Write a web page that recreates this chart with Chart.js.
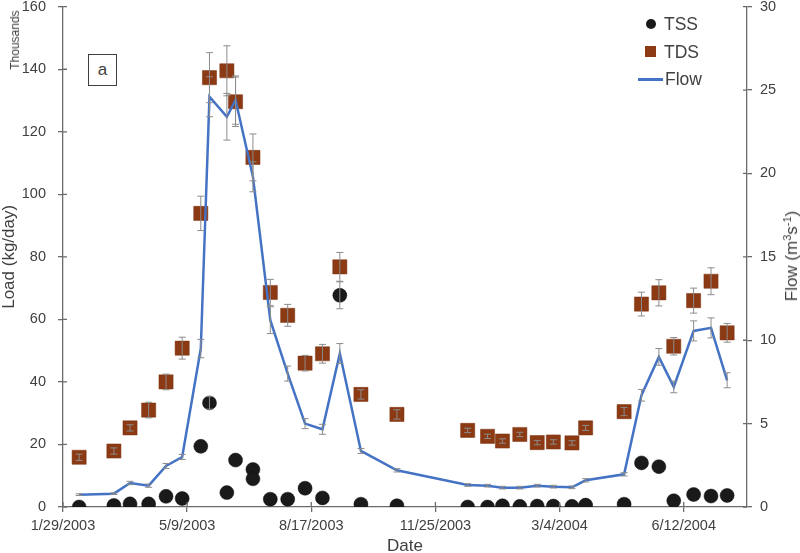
<!DOCTYPE html>
<html>
<head>
<meta charset="utf-8">
<script src="https://cdn.jsdelivr.net/npm/chart.js@4.4.0/dist/chart.umd.min.js"></script>
<style>
  body { margin: 0; background: #fff; font-family: "Liberation Sans", Arial, sans-serif; color: #404040; }
  #wrap { position: relative; width: 800px; height: 553px; }
  #wrap canvas { position: absolute; left: 0; top: 0; }
  .abs { position: absolute; white-space: nowrap; }
  .rot { transform: translate(-50%, -50%) rotate(-90deg); }
  .key { font-size: 17.5px; line-height: 18px; }
  .panel { left: 88px; top: 54px; width: 27px; height: 30px; border: 1px solid #404040; font-size: 17px; line-height: 29px; text-align: center; background: #fff; }
  sup { font-size: 11px; line-height: 0; vertical-align: 6px; }
</style>
</head>
<body>
<div id="wrap">
  <canvas id="loadChart"></canvas>
  <div class="abs rot" style="left:15px; top:40px; font-size:12px;">Thousands</div>
  <div class="abs rot" style="left:792px; top:256px; font-size:17px;">Flow (m<sup>3</sup>s<sup>-1</sup>)</div>
  <div class="abs panel">a</div>
  <div class="abs" style="left:646px; top:19px; width:10px; height:10px; border-radius:50%; background:#1a1a1a;"></div>
  <div class="abs key" style="left:664px; top:15px;">TSS</div>
  <div class="abs" style="left:645px; top:46px; width:11px; height:11px; background:#8b3a14;"></div>
  <div class="abs key" style="left:664px; top:43px;">TDS</div>
  <div class="abs" style="left:638px; top:78px; width:25px; height:2.5px; background:#4472c4;"></div>
  <div class="abs key" style="left:665px; top:70px;">Flow</div>
</div>
<script>
// days counted from 1/29/2003
const startDate = new Date(2003, 0, 29);
const dayTicks = [0, 100, 200, 300, 400, 500];

const tssDays = [13, 41, 54, 69, 83, 96, 111, 118, 132, 139, 153, 153, 167, 181, 195, 209, 223, 240, 269,
  326, 342, 354, 368, 382, 395, 410, 421, 452, 466, 480, 492, 508, 522, 535];
const tssLoad = [0, 0.5, 1, 1, 3.4, 2.7, 19.4, 33.3, 4.6, 15, 12, 9, 2.5, 2.5, 6, 2.9, 67.7, 0.9, 0.4,
  0, 0, 0.4, 0.2, 0.3, 0.3, 0.2, 0.6, 0.9, 14.1, 12.9, 2, 4, 3.5, 3.7];
const tssErr = [0, 0, 0, 0, 0, 0, 0, 2, 0, 0, 0, 0, 0, 0, 0, 0, 4.3, 0, 0,
  0, 0, 0, 0, 0, 0, 0, 0, 0, 0, 0, 0, 0, 0, 0];

const sampleDays = [13, 41, 54, 69, 83, 96, 111, 118, 132, 139, 153, 167, 181, 195, 209, 223, 240, 269,
  326, 342, 354, 368, 382, 395, 410, 421, 452, 466, 480, 492, 508, 522, 535];
const tdsLoad = [15.9, 17.9, 25.3, 31, 40, 50.8, 93.9, 137.3, 139.5, 129.6, 111.8, 68.6, 61.3, 46, 49, 76.8, 36, 29.6,
  24.5, 22.6, 21.1, 23.2, 20.6, 20.8, 20.5, 25.3, 30.5, 64.9, 68.5, 51.4, 66, 72.2, 55.7];
const tdsErr = [1, 1, 1, 2.5, 2.5, 3.5, 5.5, 8, 8, 7.9, 7.5, 4.2, 3.5, 2.5, 3, 4.6, 1.5, 1.5,
  0.7, 0.7, 0.7, 0.7, 0.7, 0.7, 0.7, 0.8, 1.3, 3.8, 4.2, 2.8, 4, 4.3, 3];
const flow = [0.74, 0.8, 1.44, 1.28, 2.46, 3.0, 9.5, 24.6, 23.4, 24.4, 19.8, 11.2, 8.0, 5.0, 4.66, 9.2, 3.36, 2.2,
  1.32, 1.28, 1.16, 1.16, 1.28, 1.22, 1.18, 1.6, 1.96, 6.7, 9.0, 7.2, 10.56, 10.74, 7.6];
const flowErr = [0.05, 0.05, 0.1, 0.1, 0.15, 0.15, 0.55, 1.2, 1.4, 1.45, 0.9, 0.8, 0.45, 0.3, 0.3, 0.6, 0.15, 0.1,
  0.08, 0.08, 0.08, 0.08, 0.08, 0.08, 0.08, 0.1, 0.1, 0.35, 0.5, 0.35, 0.6, 0.6, 0.45];

const axisColor = '#6b6b6b';
const textColor = '#404040';

function dayLabel(d) {
  const dt = new Date(startDate.getTime());
  dt.setDate(dt.getDate() + d);
  return `${dt.getMonth() + 1}/${dt.getDate()}/${dt.getFullYear()}`;
}

function points(days, values) {
  return days.map((d, i) => ({ x: d, y: values[i] }));
}

const errorBars = {
  id: 'errorBars',
  afterDatasetsDraw(chart) {
    const ctx = chart.ctx;
    ctx.save();
    ctx.strokeStyle = '#8c8c8c';
    ctx.lineWidth = 1;
    chart.data.datasets.forEach((ds, di) => {
      if (!ds.errors) return;
      const meta = chart.getDatasetMeta(di);
      const yScale = chart.scales[meta.yAxisID];
      meta.data.forEach((el, i) => {
        const err = ds.errors[i];
        if (!err) return;
        const v = ds.data[i].y;
        const top = yScale.getPixelForValue(v + err);
        const bot = yScale.getPixelForValue(Math.max(0, v - err));
        ctx.beginPath();
        ctx.moveTo(el.x, top); ctx.lineTo(el.x, bot);
        ctx.moveTo(el.x - 3.5, top); ctx.lineTo(el.x + 3.5, top);
        ctx.moveTo(el.x - 3.5, bot); ctx.lineTo(el.x + 3.5, bot);
        ctx.stroke();
      });
    });
    ctx.restore();
  }
};

const innerTicks = {
  id: 'innerTicks',
  afterDraw(chart) {
    const { ctx, chartArea } = chart;
    const { x, y, y1 } = chart.scales;
    ctx.save();
    ctx.strokeStyle = axisColor;
    ctx.lineWidth = 1.3;
    ctx.beginPath();
    x.ticks.forEach((t) => {
      const px = x.getPixelForValue(t.value);
      ctx.moveTo(px, chartArea.bottom); ctx.lineTo(px, chartArea.bottom - 5);
    });
    y.ticks.forEach((t) => {
      const py = y.getPixelForValue(t.value);
      ctx.moveTo(chartArea.left, py); ctx.lineTo(chartArea.left + 4, py);
    });
    y1.ticks.forEach((t) => {
      const py = y1.getPixelForValue(t.value);
      ctx.moveTo(chartArea.right, py); ctx.lineTo(chartArea.right - 4, py);
    });
    ctx.stroke();
    ctx.restore();
  }
};

const tickFont = { family: '"Liberation Sans", Arial, sans-serif', size: 14.5 };
const titleFont = { family: '"Liberation Sans", Arial, sans-serif', size: 17, lineHeight: 1 };

function fitVertical(width) {
  return (scale) => {
    scale.width = width;
    scale.paddingTop = 6.7;
    scale.paddingBottom = 0;
  };
}

new Chart(document.getElementById('loadChart'), {
  type: 'scatter',
  data: {
    datasets: [
      {
        label: 'Flow',
        type: 'line',
        data: points(sampleDays, flow),
        errors: flowErr,
        yAxisID: 'y1',
        borderColor: '#4472c4',
        borderWidth: 2.5,
        pointRadius: 0,
        tension: 0,
        fill: false
      },
      {
        label: 'TDS',
        data: points(sampleDays, tdsLoad),
        errors: tdsErr,
        yAxisID: 'y',
        pointStyle: 'rect',
        pointRadius: 10,
        backgroundColor: '#8b3a14',
        borderColor: '#7a3210',
        borderWidth: 0.5
      },
      {
        label: 'TSS',
        data: points(tssDays, tssLoad),
        errors: tssErr,
        yAxisID: 'y',
        pointStyle: 'circle',
        pointRadius: 7,
        backgroundColor: '#1a1a1a',
        borderColor: '#111',
        borderWidth: 0.5
      }
    ]
  },
  options: {
    responsive: true,
    maintainAspectRatio: false,
    animation: false,
    layout: { padding: 0, autoPadding: false },
    plugins: { legend: { display: false }, tooltip: { enabled: false } },
    scales: {
      x: {
        type: 'linear',
        min: 0,
        max: 551,
        afterBuildTicks: (scale) => { scale.ticks = dayTicks.map((v) => ({ value: v })); },
        afterFit: (scale) => { scale.height = 46; },
        ticks: { callback: (v) => dayLabel(v), color: textColor, font: tickFont, padding: 5, maxRotation: 0, autoSkip: false },
        grid: { drawOnChartArea: false, color: axisColor, tickLength: 5, lineWidth: 1.3 },
        border: { color: axisColor, width: 1.3 },
        title: { display: true, text: 'Date', color: textColor, font: titleFont, padding: { top: 0, bottom: -1.5 } }
      },
      y: {
        position: 'left',
        min: 0,
        max: 160,
        ticks: { stepSize: 20, color: textColor, font: tickFont, padding: 12 },
        afterFit: fitVertical(63),
        grid: { drawOnChartArea: false, color: axisColor, tickLength: 5, lineWidth: 1.3 },
        border: { color: axisColor, width: 1.3 },
        title: { display: true, text: 'Load (kg/day)', color: textColor, font: titleFont, padding: { top: 1, bottom: 0 } }
      },
      y1: {
        position: 'right',
        min: 0,
        max: 30,
        ticks: { stepSize: 5, color: textColor, font: tickFont, padding: 8 },
        afterFit: fitVertical(53),
        grid: { drawOnChartArea: false, color: axisColor, tickLength: 5, lineWidth: 1.3 },
        border: { color: axisColor, width: 1.3 }
      }
    }
  },
  plugins: [errorBars, innerTicks]
});
</script>
</body>
</html>
